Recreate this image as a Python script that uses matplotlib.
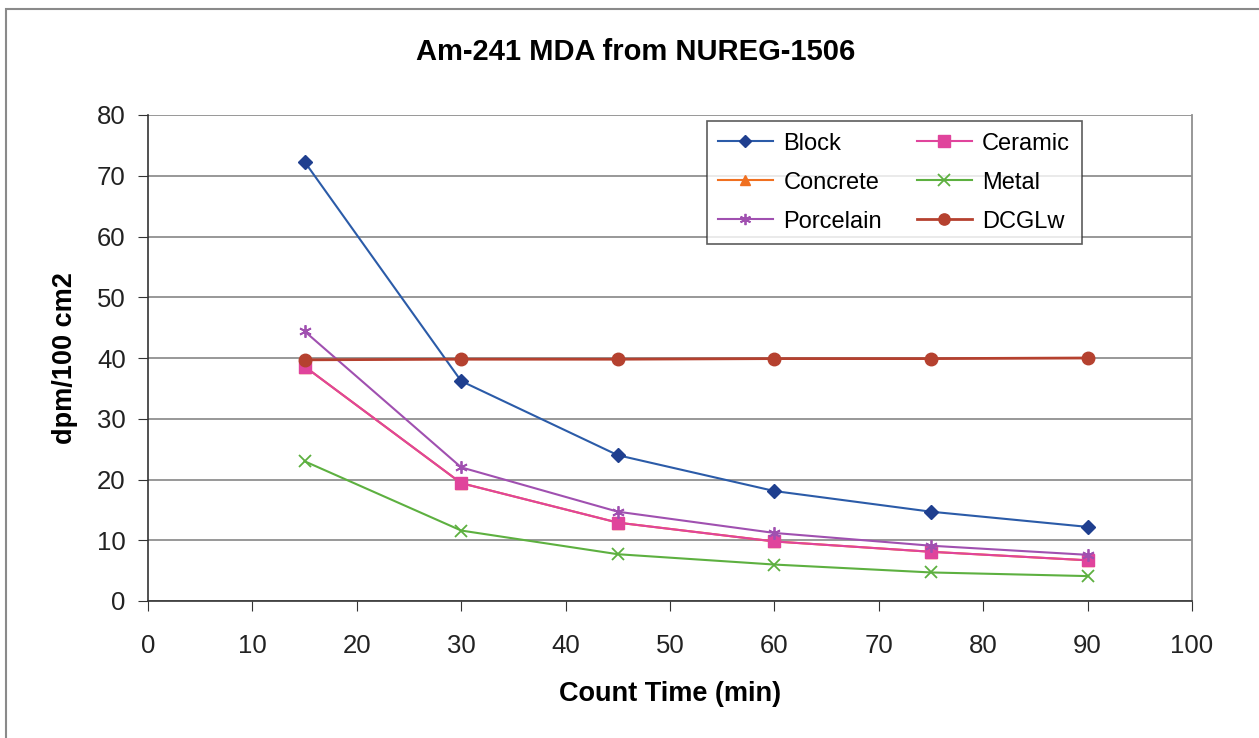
import matplotlib.pyplot as plt
from matplotlib.patches import Rectangle

# Count time (min)
count_time = [15, 30, 45, 60, 75, 90]

# MDA values, dpm/100 cm2
block = [72.3, 36.2, 24.0, 18.1, 14.7, 12.2]
ceramic = [38.6, 19.4, 12.9, 9.8, 8.1, 6.7]
concrete = [38.6, 19.4, 12.9, 9.8, 8.1, 6.7]
metal = [23.0, 11.6, 7.7, 6.0, 4.7, 4.1]
porcelain = [44.4, 22.0, 14.7, 11.2, 9.1, 7.6]
dcglw = [39.7, 39.8, 39.8, 39.9, 39.9, 40.0]

plt.rcParams['font.family'] = ['Liberation Sans', 'DejaVu Sans']

fig = plt.figure(figsize=(12.59, 7.38), dpi=100)
ax = fig.add_axes([148 / 1259, 1 - 601 / 738, (1192 - 148) / 1259, (601 - 115) / 738])

# border round the whole chart (runs off the right and bottom edges in the scan)
fig.patches.append(Rectangle((6 / 1259, -0.05), 1.2, 1.05 - 9 / 738,
                             transform=fig.transFigure, fill=False,
                             edgecolor='#8a8a8a', linewidth=1.5))

ax.plot(count_time, block, color='#2B5BA8', marker='D', markersize=7,
        markerfacecolor='#1F3F8F', markeredgecolor='#1F3F8F', linewidth=1.5, label='Block')
ax.plot(count_time, concrete, color='#F07020', marker='^', markersize=8, linewidth=1.5, label='Concrete')
ax.plot(count_time, ceramic, color='#E0449C', marker='s', markersize=9, linewidth=1.5, label='Ceramic')
ax.plot(count_time, metal, color='#5DB040', marker='x', markersize=9, markeredgewidth=1.3,
        linewidth=1.5, label='Metal')
ax.plot(count_time, porcelain, color='#A050B0', marker=(6, 2, 0), markersize=9, markeredgewidth=1.3,
        linewidth=1.5, label='Porcelain')
ax.plot(count_time, dcglw, color='#B5412F', marker='o', markersize=9, linewidth=2, label='DCGLw')

ax.set_xlim(0, 100)
ax.set_ylim(0, 80)
ax.set_xticks(range(0, 101, 10))
ax.set_yticks(range(0, 81, 10))
ax.yaxis.grid(True, color='#909090', linewidth=1.3)
ax.set_axisbelow(True)
ax.spines['top'].set_visible(False)
ax.spines['right'].set_color('#909090')
ax.spines['right'].set_linewidth(1.3)
for s in ['left', 'bottom']:
    ax.spines[s].set_color('#333333')
    ax.spines[s].set_linewidth(1.2)
ax.tick_params(labelsize=18.5, length=7, color='#333333', direction='out', colors='#222222')
ax.tick_params(axis='x', pad=17)
ax.tick_params(axis='y', pad=9)

# title is centred on the chart area, not on the plot area
fig.text(636 / 1259, 1 - 52 / 738, 'Am-241 MDA from NUREG-1506', fontsize=21,
         fontweight='bold', ha='center', va='center')
ax.set_xlabel('Count Time (min)', fontsize=19.5, fontweight='bold', labelpad=16)
ax.set_ylabel('dpm/100 cm2', fontsize=19.5, fontweight='bold', labelpad=14)

# Excel fills the legend row by row, matplotlib column by column
handles, labels = ax.get_legend_handles_labels()
hmap = dict(zip(labels, handles))
order = ['Block', 'Concrete', 'Porcelain', 'Ceramic', 'Metal', 'DCGLw']
leg = ax.legend([hmap[k] for k in order], order, ncol=2, fontsize=17,
                loc='upper left', bbox_to_anchor=(0.535, 0.988),
                frameon=True, fancybox=False, edgecolor='#333333',
                handlelength=2.3, handletextpad=0.45, columnspacing=1.5,
                labelspacing=0.72, markerscale=0.9, borderpad=0.5, borderaxespad=0)
leg.get_frame().set_linewidth(1.2)

fig.savefig('out.png', dpi=100)
